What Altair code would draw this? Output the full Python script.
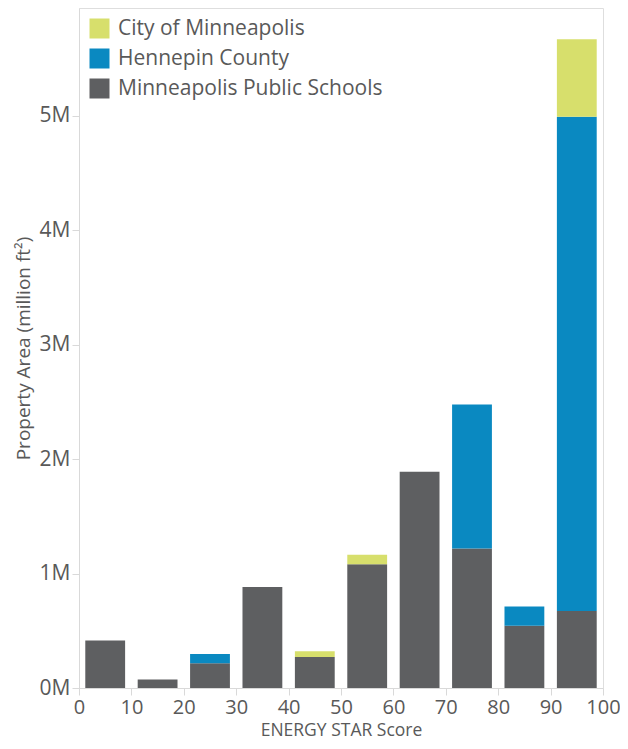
import altair as alt
import pandas as pd

bin_start = [0, 10, 20, 30, 40, 50, 60, 70, 80, 90]
bin_end = [10, 20, 30, 40, 50, 60, 70, 80, 90, 100]
schools = [0.415, 0.074, 0.217, 0.882, 0.270, 1.080, 1.890, 1.218, 0.544, 0.673]
hennepin = [0.0, 0.0, 0.079, 0.0, 0.0, 0.0, 0.0, 1.258, 0.169, 4.317]
city = [0.0, 0.0, 0.0, 0.0, 0.052, 0.085, 0.0, 0.0, 0.0, 0.677]

owners = ["City of Minneapolis", "Hennepin County", "Minneapolis Public Schools"]
colors = ["#d7df6c", "#0a89c1", "#5e5f61"]
stack_rank = {"Minneapolis Public Schools": 0, "Hennepin County": 1, "City of Minneapolis": 2}

rows = []
for s, e, a, b, c in zip(bin_start, bin_end, schools, hennepin, city):
    for owner, v in (("Minneapolis Public Schools", a), ("Hennepin County", b), ("City of Minneapolis", c)):
        rows.append({"start": s, "end": e, "owner": owner, "area": v, "rank": stack_rank[owner]})
df = pd.DataFrame(rows)

FONT = "Open Sans"
TXT = "#595959"

chart = (
    alt.Chart(df)
    .transform_stack(stack="area", as_=["y0", "y1"], groupby=["start"],
                     sort=[alt.SortField("rank", order="ascending")])
    .transform_filter("datum.area > 0")
    .transform_calculate(lo="datum.start + 1.2", hi="datum.end - 1.2")
    .mark_bar()
    .encode(
        x=alt.X("lo:Q", scale=alt.Scale(domain=[0, 100], nice=False),
                axis=alt.Axis(values=list(range(0, 101, 10)), title="ENERGY STAR Score",
                              grid=False, tickSize=7, labelPadding=2, labelFontSize=20,
                              labelFlush=False, labelOverlap=False,
                              titleFontSize=17.5, titlePadding=4)),
        x2="hi:Q",
        y=alt.Y("y0:Q", scale=alt.Scale(domain=[0, 5.94], nice=False),
                axis=alt.Axis(values=[0, 1, 2, 3, 4, 5], labelExpr="datum.value + 'M'",
                              title="Property Area (million ft\u00b2)", grid=False,
                              tickSize=7, labelPadding=2, labelFontSize=21,
                              labelFlush=False, labelOverlap=False,
                              titleFontSize=19, titlePadding=6)),
        y2="y1:Q",
        color=alt.Color("owner:N", scale=alt.Scale(domain=owners, range=colors),
                        legend=alt.Legend(title=None, orient="none", legendX=1, legendY=1,
                                          padding=9, symbolType="square", symbolSize=400,
                                          symbolStrokeWidth=0, labelFontSize=21,
                                          labelOffset=8, rowPadding=8, labelLimit=400)),
    )
    .properties(
        width=524, height=680,
        autosize=alt.AutoSizeParams(type="none"),
        padding={"left": 71, "top": 0, "right": 17, "bottom": 53},
    )
    .configure_view(stroke="#dedede", strokeWidth=1)
    .configure_axis(domainColor="#d9d9d9", tickColor="#d9d9d9", labelColor=TXT,
                    titleColor=TXT, labelFont=FONT, titleFont=FONT, titleFontWeight="normal")
    .configure_legend(labelColor=TXT, labelFont=FONT)
)

chart.save("out.html", embed_options={"renderer": "svg", "actions": False})
